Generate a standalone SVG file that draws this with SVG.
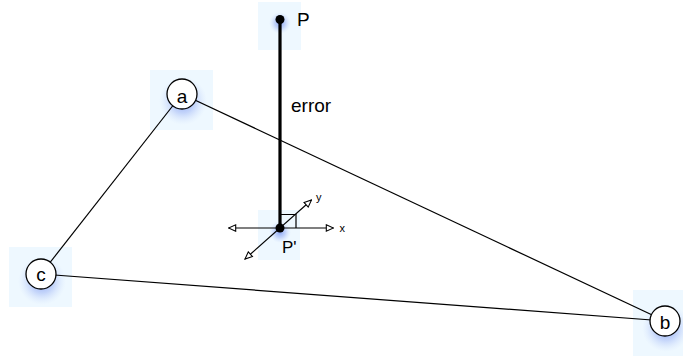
<svg xmlns="http://www.w3.org/2000/svg" width="683" height="358" viewBox="0 0 683 358">
<defs>
<style>
.bg{fill:#eef8ff}
.node{fill:#fff;stroke:#000;stroke-width:1.3}
.lbl{font-family:"Liberation Sans",Arial,sans-serif;font-size:19px;fill:#000}
.sm{font-family:"Liberation Sans",Arial,sans-serif;font-size:11px;fill:#000}
.edge{stroke:#000;stroke-width:1.2;fill:none}
.glow{fill:url(#glowg)}
</style>
<radialGradient id="glowg">
<stop offset="0" stop-color="#6f8ff0" stop-opacity="0.8"/>
<stop offset="0.5" stop-color="#8fa8f4" stop-opacity="0.45"/>
<stop offset="1" stop-color="#c8d8fb" stop-opacity="0"/>
</radialGradient>
<marker id="ah" viewBox="0 0 10 10" refX="9" refY="5" markerWidth="9" markerHeight="9" orient="auto-start-reverse" markerUnits="userSpaceOnUse">
<path d="M1,1.5 L9,5 L1,8.5 Z" fill="#fff" stroke="#000" stroke-width="1.2"/>
</marker>
</defs>
<rect width="683" height="358" fill="#fff"/>
<g id="backgrounds">
<rect class="bg" x="150" y="70" width="63" height="60"/>
<rect class="bg" x="9" y="247" width="63" height="60"/>
<rect class="bg" x="633" y="290" width="50" height="66"/>
<rect class="bg" x="258" y="2" width="43" height="48"/>
<rect class="bg" x="258" y="210" width="42" height="50"/>
<circle class="glow" cx="183" cy="101" r="24"/>
<circle class="glow" cx="42" cy="281" r="24"/>
<circle class="glow" cx="666" cy="328" r="24"/>
<circle class="glow" cx="280" cy="23" r="11"/>
<circle class="glow" cx="280" cy="232" r="11"/>
</g>
<g id="connectors">
<line class="edge" x1="182" y1="94" x2="665" y2="321"/>
<line class="edge" x1="182" y1="94" x2="41" y2="274"/>
<line class="edge" x1="41" y1="274" x2="665" y2="321"/>
<line x1="280" y1="19.5" x2="280" y2="228" stroke="#000" stroke-width="3.2"/>
</g>
<g id="node-a">
<circle class="node" cx="182" cy="94" r="15"/>
<text class="lbl" x="182" y="103" text-anchor="middle">a</text>
</g>
<g id="node-c">
<circle class="node" cx="41" cy="274" r="15"/>
<text class="lbl" x="41" y="281" text-anchor="middle">c</text>
</g>
<g id="node-b">
<circle class="node" cx="665" cy="321" r="15"/>
<text class="lbl" x="665" y="328.5" text-anchor="middle">b</text>
</g>
<g id="node-P">
<circle cx="280" cy="19.5" r="4.5" fill="#000"/>
<text class="lbl" x="297" y="26">P</text>
</g>
<g id="error-label">
<text class="lbl" x="291" y="112">error</text>
</g>
<g id="node-Pprime">
<line class="edge" x1="228.5" y1="228" x2="333.5" y2="228" marker-start="url(#ah)" marker-end="url(#ah)"/>
<line class="edge" x1="245" y1="259" x2="311.5" y2="200" marker-start="url(#ah)" marker-end="url(#ah)"/>
<polyline class="edge" points="279,214.5 296,214.5 296,228"/>
<circle cx="280" cy="228" r="4.5" fill="#000"/>
<text class="lbl" x="282" y="253" style="font-size:17px">P'</text>
<text class="sm" x="339.5" y="232">x</text>
<text class="sm" x="316" y="201">y</text>
</g>
</svg>
